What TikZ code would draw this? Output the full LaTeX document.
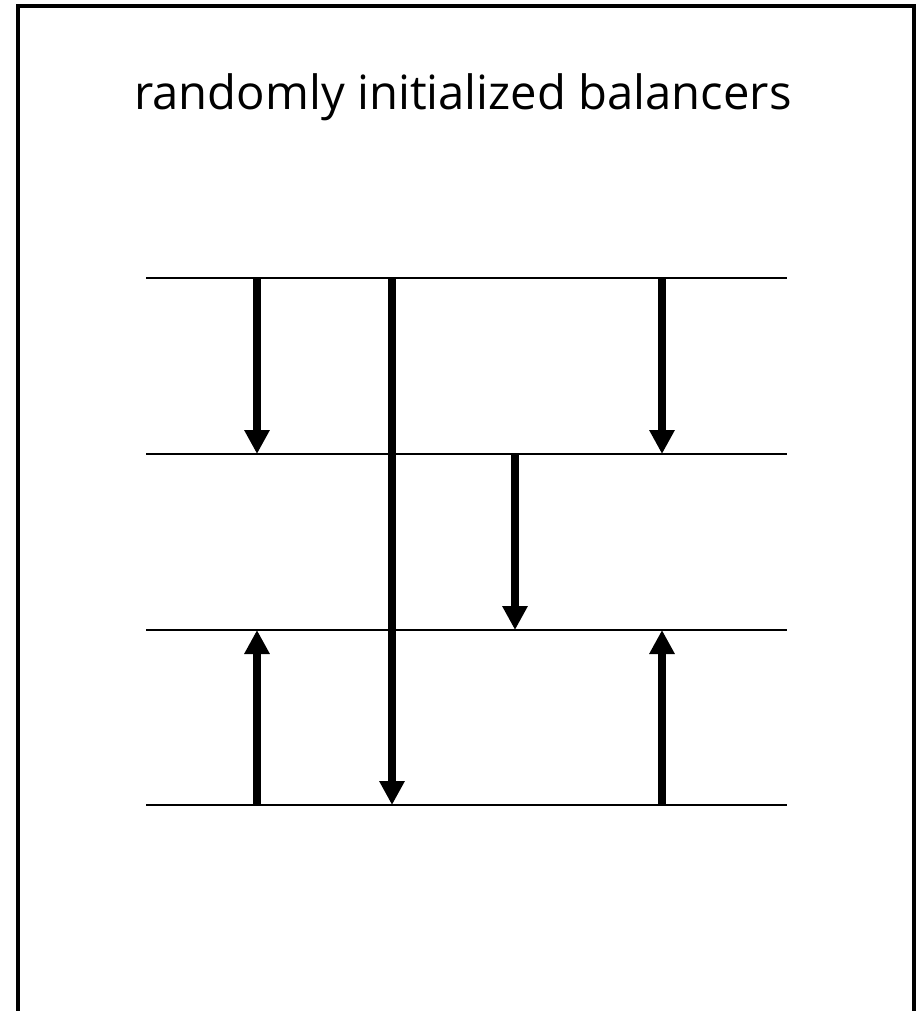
\documentclass[tikz,border=0pt]{standalone}
\usepackage{fontspec}
\setmainfont{Open Sans}
\usetikzlibrary{arrows.meta}
\begin{document}
\begin{tikzpicture}[x=0.5pt,y=-0.5pt,
  rail/.style={line width=1pt},
  bal/.style={line width=4pt,-{Triangle[width=12pt,length=12pt]}},
  frame/.style={line width=2pt}]
\useasboundingbox (0,0) rectangle (916,1011);
\draw[frame] (18,1030) -- (18,6) -- (914,6) -- (914,1030);
\node[anchor=base, inner sep=0pt] (title) at (463,110) {\fontsize{23.6}{28}\selectfont randomly initialized balancers};
% rails
\foreach \n/\y in {1/278,2/454,3/630,4/805}{
  \coordinate (L\n) at (146,\y);
  \coordinate (R\n) at (787,\y);
  \draw[rail] (L\n) -- (R\n);
}
% balancer end points
\coordinate (a1) at (257,278); \coordinate (a2) at (257,454);
\coordinate (b1) at (392,278); \coordinate (b4) at (392,805);
\coordinate (c1) at (662,278); \coordinate (c2) at (662,454);
\coordinate (d2) at (515,454); \coordinate (d3) at (515,630);
\coordinate (e4) at (257,805); \coordinate (e3) at (257,630);
\coordinate (f4) at (662,805); \coordinate (f3) at (662,630);
\draw[bal] (a1) -- (a2);
\draw[bal] (b1) -- (b4);
\draw[bal] (c1) -- (c2);
\draw[bal] (d2) -- (d3);
\draw[bal] (e4) -- (e3);
\draw[bal] (f4) -- (f3);
\end{tikzpicture}
\end{document}
